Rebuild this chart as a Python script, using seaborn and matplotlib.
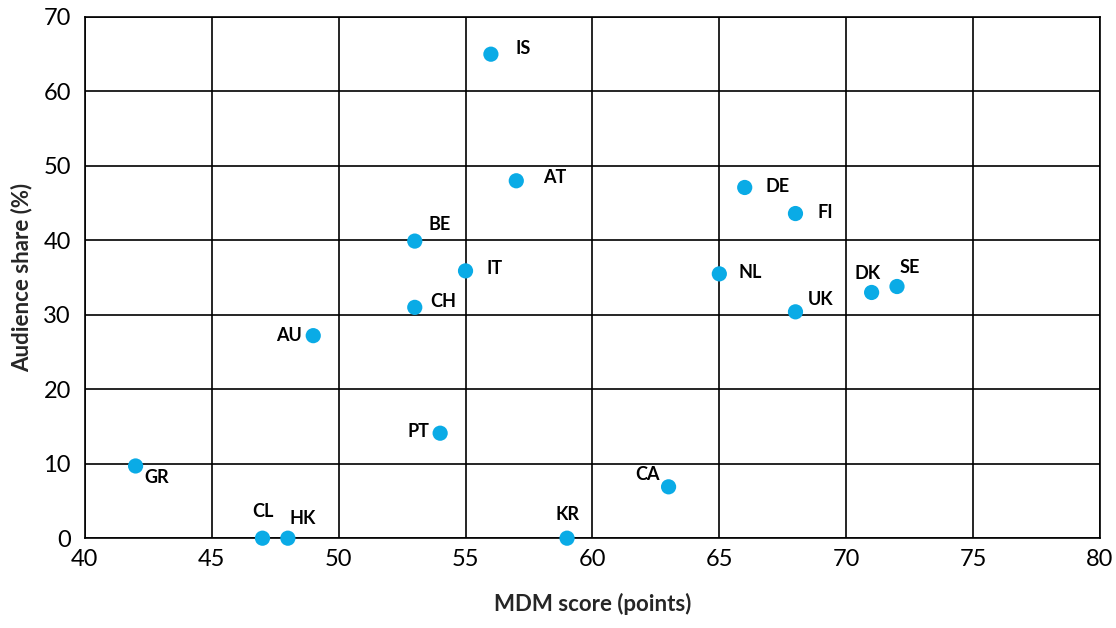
import pandas as pd
import matplotlib
matplotlib.use("Agg")
import matplotlib.pyplot as plt
import seaborn as sns

# Dados
paises = ["IS", "AT", "DE", "FI", "BE", "IT", "NL", "CH", "DK", "SE",
          "UK", "AU", "PT", "GR", "CA", "CL", "HK", "KR"]
mdm = [56, 57, 66, 68, 53, 55, 65, 53, 71, 72, 68, 49, 54, 42, 63, 47, 48, 59]
audiencia = [65, 48, 47.1, 43.6, 39.9, 35.9, 35.5, 31, 33, 33.8,
             30.4, 27.2, 14.1, 9.7, 6.9, 0, 0, 0]

df = pd.DataFrame({"pais": paises, "mdm": mdm, "aud": audiencia})

sns.set_theme(style="white")
plt.rcParams["font.family"] = ["Lato", "DejaVu Sans"]

fig, ax = plt.subplots(figsize=(11.16, 6.28), dpi=100)
fig.subplots_adjust(left=0.076, right=0.9857, top=0.973, bottom=0.143)

sns.scatterplot(data=df, x="mdm", y="aud", ax=ax, color="#0aabe6",
                s=120, edgecolor="none", zorder=3, clip_on=False)

# deslocamentos dos rótulos (pontos) e alinhamento
offsets = {
    "IS": (18, 4, "left"), "AT": (19, 2, "left"), "DE": (15, 1, "left"),
    "FI": (16, 1, "left"), "BE": (10, 12, "left"), "IT": (15, 2, "left"),
    "NL": (14, 1, "left"), "CH": (11, 4, "left"), "DK": (-3, 14, "center"),
    "SE": (9, 14, "center"), "UK": (9, 9, "left"), "AU": (-8, 0, "right"),
    "PT": (-8, 1, "right"), "GR": (6, -8, "left"), "CA": (-15, 9, "center"),
    "CL": (0, 19, "center"), "HK": (11, 14, "center"), "KR": (0, 17, "center"),
}
for _, r in df.iterrows():
    dx, dy, ha = offsets[r["pais"]]
    ax.annotate(r["pais"], (r["mdm"], r["aud"]), xytext=(dx, dy),
                textcoords="offset points", ha=ha, va="center",
                fontsize=13, fontweight="bold", color="black")

ax.set_xlim(40, 80)
ax.set_ylim(0, 70)
ax.set_xticks(range(40, 81, 5))
ax.set_yticks(range(0, 71, 10))
ax.grid(True, color="black", linewidth=1.2)
ax.set_axisbelow(True)
for s in ax.spines.values():
    s.set_color("black")
    s.set_linewidth(1.2)
ax.tick_params(axis="both", length=0, labelsize=17, colors="black")
ax.tick_params(axis="x", pad=8)
ax.tick_params(axis="y", pad=10)
ax.set_xlabel("MDM score (points)", fontsize=16, fontweight="bold", labelpad=16)
ax.set_ylabel("Audience share (%)", fontsize=16, fontweight="bold", labelpad=8)

plt.savefig("out.png", dpi=100)
